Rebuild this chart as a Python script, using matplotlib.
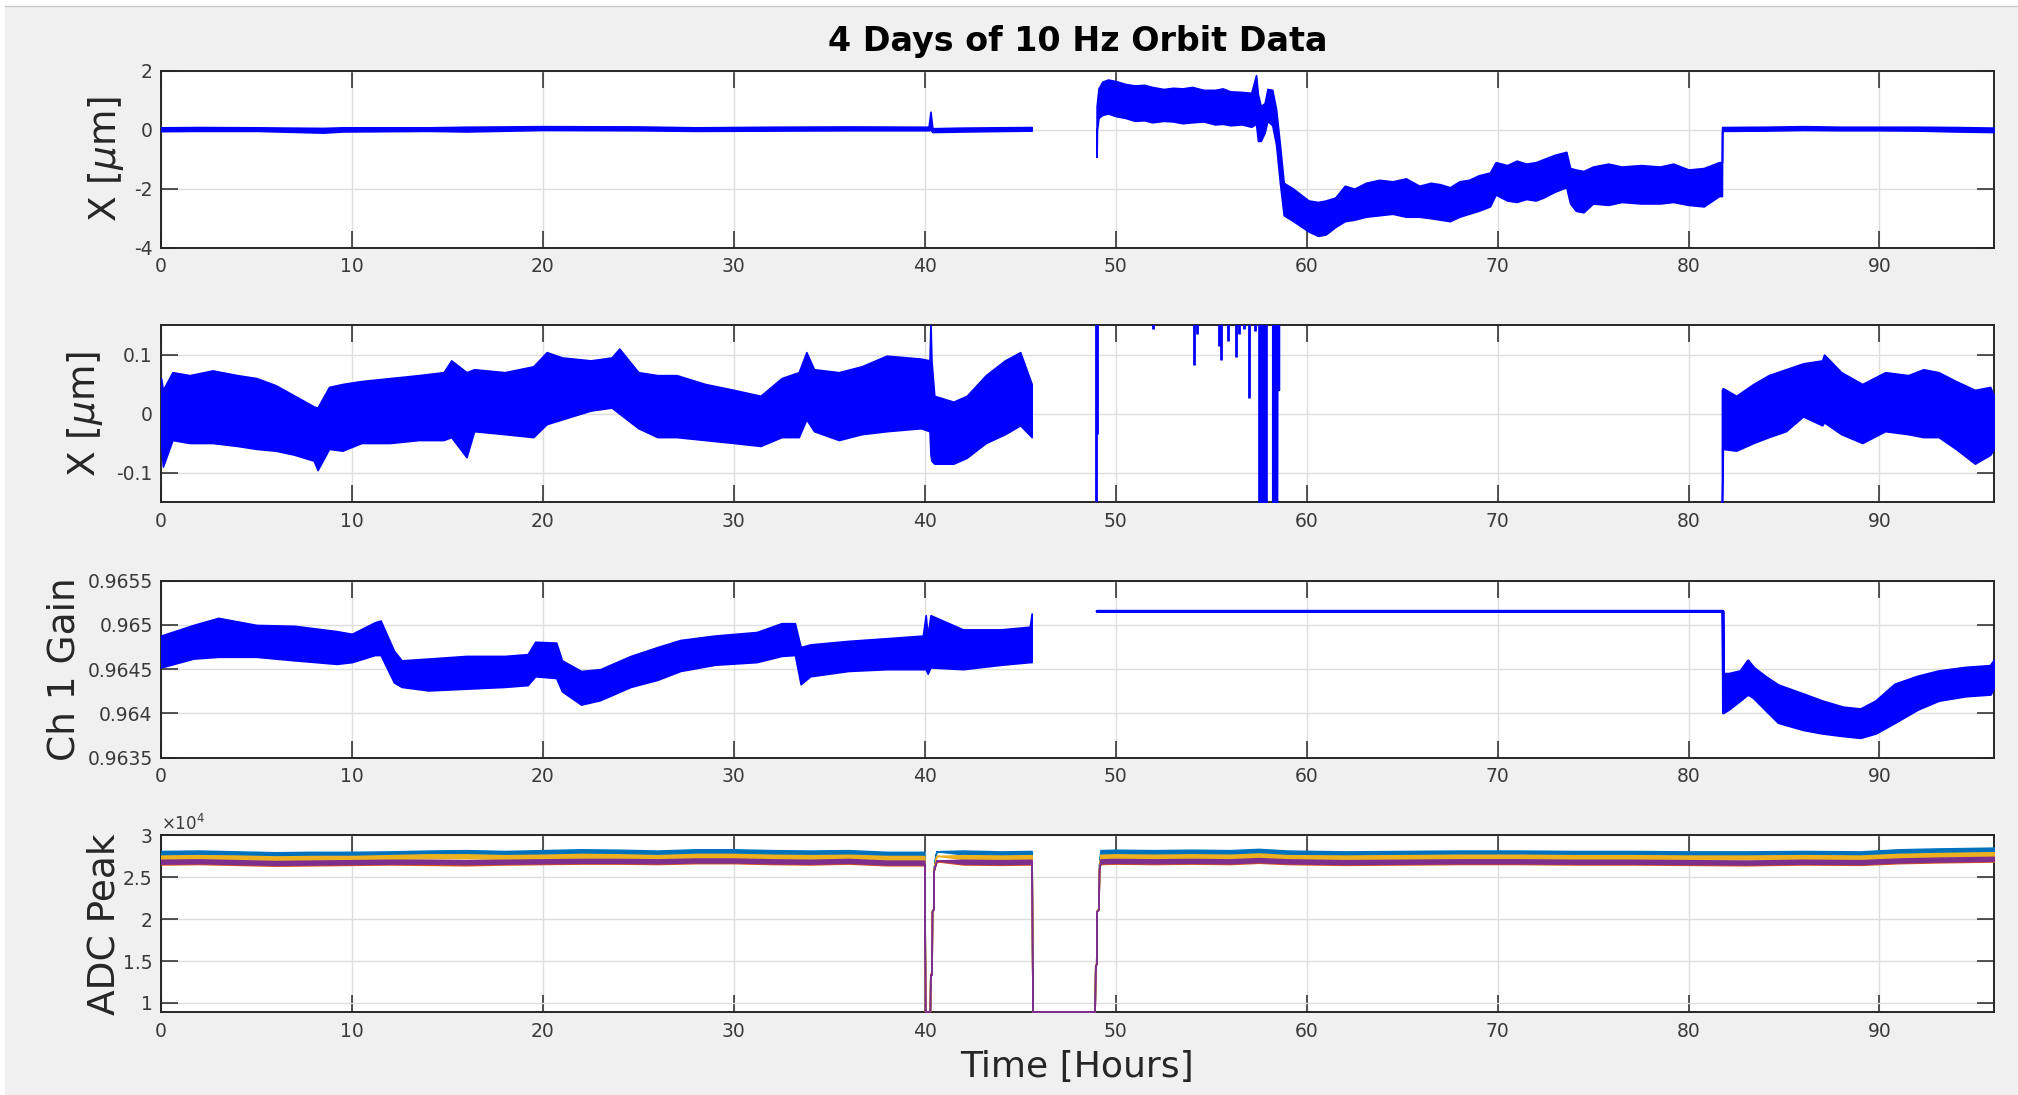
import matplotlib.pyplot as plt
from matplotlib.patches import Rectangle
from matplotlib.lines import Line2D

plt.rcParams['font.family'] = ['DejaVu Sans']
plt.rcParams['mathtext.fontset'] = 'dejavusans'

BLUE = '#0000ff'
ADC_COLORS = ['#0072bd', '#d95319', '#edb120', '#7e2f8e']

# ---- X position, full range (envelope of the 10 Hz trace) ----
x1_a_t = [0, 2, 5, 8.5, 9.5, 14, 16, 20, 25, 28, 32, 36, 40.2, 40.3, 40.4, 42, 45.6]
x1_a_hi = [0.08, 0.09, 0.08, 0.06, 0.08, 0.08, 0.1, 0.12, 0.11, 0.08, 0.1, 0.11, 0.1, 0.61, 0.05, 0.07, 0.09]
x1_a_lo = [-0.05, -0.04, -0.04, -0.1, -0.06, -0.04, -0.06, -0.01, -0.02, -0.04, -0.03, -0.02, -0.02, 0.0, -0.08, -0.06, -0.03]

x1_b_t = [49.0, 49.02, 49.1, 49.3, 49.6, 50.0, 50.5, 51.0, 51.5, 51.9, 52.5, 53.0, 53.5, 54.0, 54.6, 55.2,
          55.6, 56.0, 56.6, 57.1, 57.35, 57.45, 57.6, 57.8, 57.95, 58.2, 58.4, 58.6, 58.8, 59.3, 60.1,
          60.6, 61.0, 61.5, 62.0, 62.5, 63.1, 63.8, 64.5, 65.2, 65.9, 66.5, 67.0, 67.5, 68.0, 68.5, 69.0,
          69.6, 69.9, 70.5, 71.0, 71.5, 72.0, 72.4, 73.0, 73.6, 73.8, 74.1, 74.5, 75.0, 75.8, 76.5,
          77.5, 78.5, 79.2, 80.0, 80.8, 81.6, 81.75, 81.76, 84, 86, 88, 90, 92, 94, 96]
x1_b_hi = [0.79, 0.9, 1.4, 1.63, 1.7, 1.65, 1.55, 1.5, 1.52, 1.45, 1.38, 1.42, 1.4, 1.45, 1.35, 1.35,
           1.4, 1.3, 1.28, 1.25, 1.85, 1.2, 0.8, 0.9, 1.38, 1.35, 0.7, -0.5, -1.8, -2.0, -2.4,
           -2.45, -2.4, -2.3, -1.9, -2.0, -1.8, -1.7, -1.75, -1.65, -1.9, -1.8, -1.85, -1.95, -1.75, -1.7, -1.55,
           -1.45, -1.1, -1.2, -1.05, -1.15, -1.1, -1.0, -0.85, -0.75, -1.3, -1.35, -1.4, -1.25, -1.15, -1.25,
           -1.2, -1.25, -1.15, -1.35, -1.3, -1.1, -1.1, 0.09, 0.1, 0.12, 0.1, 0.1, 0.1, 0.09, 0.07]
x1_b_lo = [-0.92, 0.0, 0.4, 0.5, 0.55, 0.46, 0.4, 0.3, 0.32, 0.25, 0.3, 0.28, 0.22, 0.25, 0.28, 0.18,
           0.2, 0.15, 0.18, 0.1, 0.2, -0.38, -0.38, -0.1, 0.3, 0.15, -0.5, -1.8, -2.9, -3.1, -3.45,
           -3.6, -3.55, -3.3, -3.1, -3.05, -2.95, -2.9, -2.85, -2.95, -2.95, -3.0, -3.05, -3.1, -2.95, -2.85, -2.75,
           -2.6, -2.2, -2.4, -2.45, -2.35, -2.4, -2.3, -2.1, -1.95, -2.5, -2.75, -2.8, -2.5, -2.55, -2.45,
           -2.5, -2.5, -2.45, -2.55, -2.6, -2.25, -2.25, -0.04, -0.03, -0.01, -0.02, -0.02, -0.03, -0.06, -0.08]

# ---- X position, zoomed ----
x2_a_t = [0, 0.1, 0.6, 1.5, 2.7, 4.0, 5.0, 6.0, 7.0, 8.0, 8.2, 8.8, 9.5, 10.5, 12.0, 13.5, 14.8,
          15.2, 16.0, 16.4, 18.0, 19.5, 20.2, 21.0, 22.5, 23.6, 24.0, 25.0, 26.0, 27.0, 28.5, 30.0,
          31.4, 32.5, 33.4, 33.8, 34.2, 35.5, 36.7, 38.0, 39.8, 40.25, 40.3, 40.35, 40.5, 41.5, 42.2,
          43.2, 44.2, 45.0, 45.6]
x2_a_hi = [0.06, 0.04, 0.07, 0.065, 0.073, 0.065, 0.06, 0.048, 0.03, 0.012, 0.01, 0.045, 0.05, 0.055, 0.06, 0.065, 0.07,
           0.09, 0.07, 0.075, 0.07, 0.08, 0.104, 0.095, 0.09, 0.095, 0.11, 0.07, 0.065, 0.065, 0.05, 0.04,
           0.03, 0.06, 0.07, 0.104, 0.075, 0.07, 0.08, 0.098, 0.093, 0.09, 0.155, 0.09, 0.03, 0.02, 0.03,
           0.065, 0.09, 0.104, 0.05]
x2_a_lo = [-0.05, -0.09, -0.045, -0.05, -0.05, -0.055, -0.06, -0.063, -0.07, -0.08, -0.096, -0.06, -0.063, -0.05, -0.05, -0.045, -0.045,
           -0.04, -0.074, -0.03, -0.035, -0.04, -0.018, -0.01, 0.005, 0.01, 0.0, -0.025, -0.04, -0.04, -0.045, -0.05,
           -0.055, -0.04, -0.04, -0.01, -0.03, -0.045, -0.035, -0.03, -0.025, -0.03, -0.07, -0.08, -0.085, -0.085, -0.075,
           -0.05, -0.035, -0.02, -0.04]

# excursions that dip into range while the trace sits above it (49-58.5 h)
x2_dip_t = [48.95, 49.02, 51.98, 54.1, 54.25, 55.4, 55.5, 55.9, 56.3, 56.45, 56.7, 57.0, 57.3]
x2_dip_lo = [-0.16, -0.035, 0.143, 0.082, 0.134, 0.115, 0.09, 0.123, 0.096, 0.134, 0.143, 0.026, 0.14]
x2_block1_t = [57.5, 57.95]
x2_block1_lo = [-0.16, -0.16]
x2_block2_t = [58.2, 58.45, 58.46, 58.55]
x2_block2_lo = [-0.16, -0.16, 0.04, 0.04]

x2_c_t = [81.75, 81.8, 82.5, 83.4, 84.2, 85.1, 86.0, 87.0, 87.1, 88.0, 89.1, 90.3, 91.5, 92.3, 93.1, 94.0, 95.0, 95.8, 96]
x2_c_hi = [0.04, 0.043, 0.03, 0.05, 0.065, 0.075, 0.085, 0.09, 0.1, 0.07, 0.05, 0.07, 0.065, 0.075, 0.07, 0.055, 0.04, 0.045, 0.03]
x2_c_lo = [-0.16, -0.06, -0.063, -0.05, -0.04, -0.03, -0.005, -0.02, -0.015, -0.035, -0.05, -0.03, -0.035, -0.04, -0.04, -0.06, -0.085, -0.07, -0.06]

# ---- Channel 1 gain ----
g_a_t = [0, 1.7, 3.0, 5.0, 7.0, 9.2, 10.0, 11.2, 11.5, 12.2, 12.6, 14, 16, 18, 19.2, 19.6, 20.7, 21.0,
         22.0, 23.0, 24.6, 26.0, 27.2, 29.0, 31.2, 32.5, 33.2, 33.5, 34.0, 36.0, 38.0, 39.9, 40.05, 40.15,
         40.3, 42, 44, 45.5, 45.6]
g_a_hi = [0.96488, 0.965, 0.96508, 0.965, 0.96499, 0.96493, 0.9649, 0.96503, 0.96505, 0.96471, 0.9646, 0.96462,
          0.96465, 0.96465, 0.96467, 0.96481, 0.9648, 0.9646, 0.96448, 0.9645, 0.96465, 0.96475, 0.96483, 0.96488,
          0.96492, 0.96502, 0.96502, 0.96475, 0.96478, 0.96482, 0.96485, 0.96488, 0.96511, 0.96488, 0.96511,
          0.96495, 0.96495, 0.96498, 0.96513]
g_a_lo = [0.96452, 0.96462, 0.96464, 0.96464, 0.9646, 0.96456, 0.96458, 0.96466, 0.96466, 0.96435, 0.9643, 0.96426,
          0.96428, 0.9643, 0.96432, 0.96442, 0.9644, 0.96425, 0.9641, 0.96415, 0.9643, 0.96438, 0.96448, 0.96455,
          0.96458, 0.96465, 0.96466, 0.96433, 0.96442, 0.96448, 0.9645, 0.9645, 0.9645, 0.96445, 0.96452,
          0.9645, 0.96455, 0.96458, 0.96458]

g_b_t = [49.0, 81.78, 81.8, 82.1, 82.7, 83.1, 83.4, 84.0, 84.7, 86.0, 87.0, 88.1, 89.0, 89.8, 90.8, 92.0, 93.1, 94.5, 95.8, 96]
g_b_hi = [0.96516, 0.96516, 0.96445, 0.96445, 0.96448, 0.9646, 0.96452, 0.96442, 0.96432, 0.96422, 0.96414, 0.96407,
          0.96405, 0.96414, 0.96433, 0.96442, 0.96448, 0.96452, 0.96454, 0.9646]
g_b_lo = [0.96516, 0.96516, 0.96401, 0.96405, 0.96415, 0.96422, 0.96418, 0.96405, 0.9639, 0.96382, 0.96378, 0.96375,
          0.96373, 0.96378, 0.9639, 0.96405, 0.96415, 0.9642, 0.96422, 0.9643]

# ---- ADC peak, four channels ----
adc_t = [0, 2, 4, 6, 8, 10, 12, 14, 16, 18, 20, 22, 24, 26, 28, 30, 32, 34, 36, 38, 39.98,
         40.02, 40.27, 40.29, 40.36, 40.38, 40.45, 40.47, 40.56, 40.62, 42, 44, 45.6,
         45.64, 48.9, 48.93, 48.98, 49.0, 49.1, 49.13, 49.2, 50, 52, 54, 56, 57.5, 59, 62, 65,
         68, 71, 74, 77, 80, 83, 86, 89, 91, 93, 96]
adc_ch1 = [27900, 27950, 27850, 27750, 27800, 27800, 27850, 27950, 28000, 27900, 28000, 28100, 28050, 27950, 28100,
           28100, 28000, 27950, 28000, 27800, 27800,
           9000, 9000, 13500, 13500, 21000, 21300, 26000, 27600, 28100, 27950, 27850, 27900,
           9000, 9000, 14500, 14700, 21000, 21300, 26600, 28000, 28050, 28000, 28050, 28000, 28150, 27950, 27850,
           27900, 27950, 27950, 27900, 27900, 27850, 27850, 27900, 27850, 28100, 28200, 28300]
adc_ch2 = [26750, 26800, 26700, 26600, 26650, 26700, 26750, 26700, 26650, 26750, 26800, 26850, 26850, 26800, 26900,
           26900, 26800, 26750, 26850, 26650, 26650,
           9000, 9000, 13400, 13400, 20900, 21200, 25800, 26500, 26900, 26750, 26700, 26750,
           9000, 9000, 14400, 14600, 20900, 21200, 25900, 26800, 26850, 26800, 26850, 26800, 26950, 26800, 26700,
           26750, 26800, 26800, 26750, 26750, 26700, 26650, 26750, 26700, 26900, 27000, 27100]
adc_ch3 = [27350, 27400, 27350, 27250, 27300, 27300, 27400, 27500, 27500, 27400, 27450, 27550, 27500, 27400, 27550,
           27550, 27450, 27400, 27450, 27300, 27300,
           9000, 9000, 13500, 13500, 21000, 21300, 25900, 27100, 27550, 27400, 27350, 27400,
           9000, 9000, 14500, 14700, 21000, 21300, 26300, 27450, 27500, 27450, 27500, 27450, 27600, 27400, 27350,
           27400, 27450, 27450, 27400, 27400, 27350, 27350, 27400, 27350, 27550, 27650, 27750]
adc_ch4 = [26850, 26900, 26800, 26700, 26750, 26800, 26850, 26850, 26800, 26850, 26900, 26950, 26950, 26900, 27000,
           27000, 26900, 26850, 26950, 26750, 26750,
           9000, 9000, 13400, 13400, 20900, 21200, 25800, 26600, 27000, 26850, 26800, 26850,
           9000, 9000, 14400, 14600, 20900, 21200, 26000, 26900, 26950, 26900, 26950, 26900, 27050, 26900, 26800,
           26850, 26900, 26900, 26850, 26850, 26800, 26750, 26850, 26800, 27000, 27100, 27200]
# half-width of the noise band around each channel
adc_spread = [230] * 21 + [0] * 9 + [230] * 3 + [0] * 7 + [230] * 20

fig = plt.figure(figsize=(20.18, 10.95), dpi=100, facecolor='white')
fig.patches.append(Rectangle((5 / 2018, 0), 1, 1 - 6 / 1095, transform=fig.transFigure,
                             facecolor='#f0f0f0', edgecolor='none', zorder=-10))
fig.lines.append(Line2D([5 / 2018, 1], [1 - 6 / 1095] * 2, transform=fig.transFigure,
                        color='#c8c8c8', lw=1))

left, width = 161 / 2018, 1833 / 2018
tops = [70.7, 325, 580.7, 835.3]
height = 177 / 1095
axes = [fig.add_axes([left, 1 - (t + 177) / 1095, width, height]) for t in tops]


def band(ax, t, lo, hi, color=BLUE, lw=1.2):
    ax.fill_between(t, lo, hi, facecolor=color, edgecolor=color, lw=lw, zorder=3)


def style(ax, ylim, yticks, yticklabels, label, label_x):
    ax.set_facecolor('white')
    ax.set_xlim(0, 96)
    ax.set_ylim(ylim)
    ax.set_xticks(range(0, 91, 10))
    ax.set_yticks(yticks)
    ax.set_yticklabels(yticklabels)
    ax.tick_params(direction='in', length=12, width=1.1, top=True, right=True,
                   labelsize=13.5, labelcolor='#3a3a3a', color='#262626')
    ax.tick_params(axis='x', pad=7)
    ax.tick_params(axis='y', pad=6)
    ax.grid(True, color='#dedede', lw=1)
    ax.set_axisbelow(True)
    for s in ax.spines.values():
        s.set_linewidth(1.4)
        s.set_color('#262626')
    ax.set_ylabel(label, fontsize=27, color='#262626')
    ax.yaxis.set_label_coords(label_x, 0.5)


ax1, ax2, ax3, ax4 = axes

# X, full range
band(ax1, x1_a_t, x1_a_lo, x1_a_hi)
band(ax1, x1_b_t, x1_b_lo, x1_b_hi)
style(ax1, (-4, 2), [-4, -2, 0, 2], ['-4', '-2', '0', '2'], r'X [$\mu$m]', -0.019)

# X, zoomed
band(ax2, x2_a_t, x2_a_lo, x2_a_hi)
ax2.vlines(x2_dip_t, x2_dip_lo, 0.16, color=BLUE, lw=2, zorder=3)
band(ax2, x2_block1_t, x2_block1_lo, [0.16] * len(x2_block1_t))
band(ax2, x2_block2_t, x2_block2_lo, [0.16] * len(x2_block2_t))
band(ax2, x2_c_t, x2_c_lo, x2_c_hi)
style(ax2, (-0.15, 0.15), [-0.1, 0, 0.1], ['-0.1', '0', '0.1'], r'X [$\mu$m]', -0.0306)

# channel 1 gain
band(ax3, g_a_t, g_a_lo, g_a_hi)
band(ax3, g_b_t, g_b_lo, g_b_hi, lw=2)
style(ax3, (0.9635, 0.9655), [0.9635, 0.964, 0.9645, 0.965, 0.9655],
      ['0.9635', '0.964', '0.9645', '0.965', '0.9655'], 'Ch 1 Gain', -0.043)

# ADC peaks
for vals, c in zip([adc_ch1, adc_ch2, adc_ch3, adc_ch4], ADC_COLORS):
    lo = [v - s for v, s in zip(vals, adc_spread)]
    hi = [v + s for v, s in zip(vals, adc_spread)]
    band(ax4, adc_t, lo, hi, color=c, lw=1.1)
style(ax4, (8880, 30000), [10000, 15000, 20000, 25000, 30000],
      ['1', '1.5', '2', '2.5', '3'], 'ADC Peak', -0.021)
ax4.text(0.0, 1.01, r'$\times10^4$', transform=ax4.transAxes, fontsize=12,
         color='#3a3a3a', ha='left', va='bottom')

fig.text(0.5 * (161 + 1994) / 2018, 1 - 41 / 1095, '4 Days of 10 Hz Orbit Data',
         ha='center', va='center', fontsize=24, fontweight='bold', color='black')
fig.text(0.5 * (161 + 1994) / 2018, 1 - 1067 / 1095, 'Time [Hours]',
         ha='center', va='center', fontsize=26, color='#262626')

fig.savefig('out.png', dpi=100, facecolor=fig.get_facecolor())
